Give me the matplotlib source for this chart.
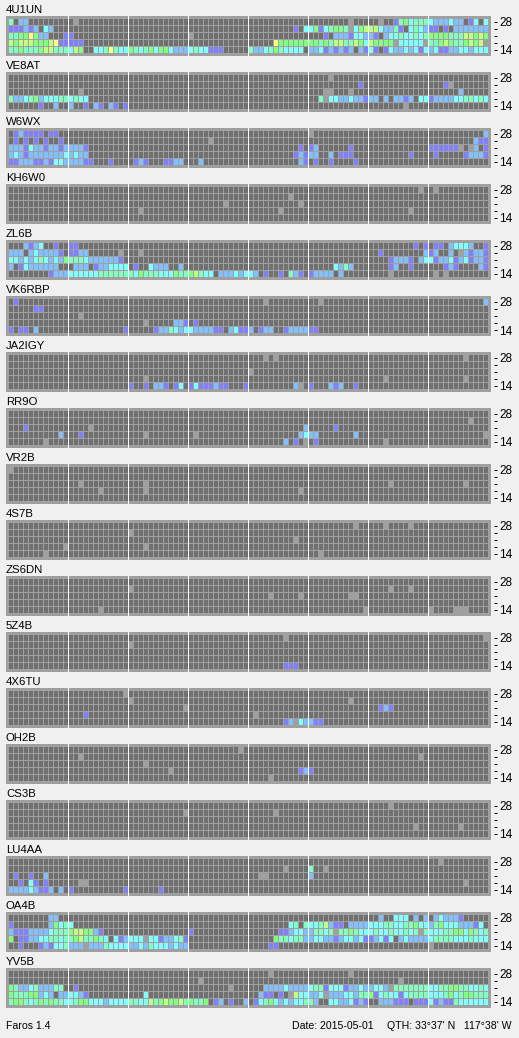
import numpy as np
import matplotlib
matplotlib.use("Agg")
import matplotlib.pyplot as plt
from matplotlib.colors import ListedColormap, BoundaryNorm
from matplotlib.collections import PolyCollection

# '.' = no signal, 0 = noise only, 1..7 = signal level; rows run from 28 MHz down to 14 MHz
D = "............"
BEACON_4U1UN = [
    "4.22........ .0.......... " + f"{D} {D} {D} ........0... ..0..1453444 3222322.13.3",
    "111212.32... " + f"{D} {D} {D} .........1.3 351345540356 6632241.3432 11.1.2222222",
    "44557522...1 1........... " + f"{D} 0........... {D} ...1.2221332 21.233433434 555544466565",
    "656665556711 111......... " + f"{D} {D} .....7555555 554546644653 655550333330 445654456560",
    "445444566444 365..3347433 543453553222 3433111..... 42234543333. 223121212.21 31.132232313 231122332333",
]
BEACON_VE8AT = [
    f"{D} {D} {D} {D} {D} ....0....... {D} {D}",
    f"{D} {D} {D} {D} {D} ..........1. {D} ...10.......",
    f"{D} ..0......... {D} {D} {D} ...00...0... {D} ......2.....",
    f"422345233344 3433........ {D} {D} {D} ..4033223221 22.2.2212.33 122223344343",
    f"......1..2.. 2..1.21.21.1 {D} {D} {D} {D} .......0.... {D}",
]
BEACON_W6WX = [
    f".121111.11.. {D} {D} {D} {D} 0........... {D} ...........2",
    f".1.1.1.1..1. {D} {D} ....0....... {D} {D} {D} .........211",
    f"222132212212 2221........ {D} {D} ..........1. 12......1... {D} 1111110.02.1",
    f"232122222223 2322........ {D} {D} .........121 22..2.111... ........1... .1.....12221",
    f"112221121332 22211...1... .121...1122. ..2......... ..........21 .1..1....1.. {D} {D}",
]
BEACON_ZL6B = [
    f"...2123..1.. 11.......... {D} {D} {D} {D} .........1.1 .11.23332..1",
    f"222.2322221. 1122......0. ..0......... {D} {D} {D} ..1........2 12..2.021221",
    f"332323432325 44432222221. {D} {D} {D} {D} ....12221.23 312231231221",
    f"2.13222222.. .222.1223333 .1..3222..2. {D} {D} .....3242... ....12..1... ...121....21",
    f"........1222 333333444444 435444333544 56433.222323 32.1..1.421. 12222.2..... ....0....... .0.0........",
]
BEACON_OA4B = [
    f"........22.. {D} {D} {D} {D} {D} ..2..333.2.2 .232221.....",
    f"1.......2534 3........... {D} {D} ........34.4 3346211.2222 333443344533 24533322213.",
    f"211122223444 5665521..... {D} 1........... ......112332 244340445433 343343343404 333445535434",
    f"5.1122334434 45644543.312 333033122341 {D} .....5443442 233221233231 12313.232222 344443334333",
    f"..1...121334 222022243333 223243332322 {D} ....11...... {D} {D} 0...........",
]
BEACON_YV5B = [
    f"{D} {D} {D} {D} ....0....... ........0... {D} {D}",
    f"{D} {D} {D} ..0......... {D} {D} ......0..... {D}",
    f"54223422244. .1.......... {D} ........0... ...222232222 344133312232 233204444444 334455443343",
    f"544455232.22 3321........ ...3........ {D} ..211.1.0633 223022233244 513433134444 333453455444",
    f"455434545443 345533323333 443364565564 5445.12.1..2 .13453232334 42..33223121 ..222111.111 312114333333",
]

# sparse panels: (row, column, level)
BEACON_KH6W0 = [(3,26,0),(2,43,0),(3,54,0),(1,56,0),(2,58,0),(3,80,0),(0,82,0),(0,85,0)]
BEACON_VK6RBP = [(0,1,1),(0,51,0),(0,62,0),(0,95,2),(1,5,1),(1,6,1),(2,14,0),(3,27,0),(3,33,2),(3,34,2),(3,35,1),(3,37,1),
    (4,0,1),(4,2,1),(4,3,1),(4,5,2),(4,23,1),(4,29,1),(4,30,2),(4,31,2),(4,32,4),(4,33,3),(4,34,2),(4,35,3),(4,36,3),
    (4,37,2),(4,38,2),(4,39,2),(4,40,2),(4,41,1),(4,42,1),(4,44,2),(4,45,3),(4,46,1),(4,47,1),(4,48,2),(4,50,1),(4,51,2),
    (4,52,2),(4,55,1),(4,56,2),(4,57,2),(4,58,2),(4,59,2),(4,60,1),(4,61,1)]
BEACON_JA2IGY = [(0,51,0),(0,53,0),(0,91,0),(2,48,0),(3,27,0),(3,75,0),(3,91,0),(4,24,1),(4,27,1),(4,29,2),(4,30,2),(4,31,1),
    (4,33,1),(4,34,3),(4,36,1),(4,37,3),(4,38,1),(4,39,1),(4,40,1),(4,41,2),(4,42,1),(4,43,1),(4,47,1),(4,57,2),(4,58,0),
    (4,60,1),(4,64,2),(4,65,1),(4,66,2),(4,69,1)]
BEACON_RR9O = [(1,92,0),(2,3,1),(2,16,0),(2,59,2),(2,65,1),(3,10,2),(3,14,1),(3,27,0),(3,37,0),(3,58,2),(3,59,3),(3,60,2),
    (3,61,2),(3,69,2),(3,95,0),(4,7,0),(4,55,2),(4,57,1),(4,59,0),(4,61,1),(4,75,0)]
BEACON_VR2B = [(0,0,0),(2,14,0),(2,27,0),(2,76,0),(2,91,0),(3,18,0),(3,27,0),(3,58,0)]
BEACON_4S7B = [(0,69,0),(0,75,0),(0,80,0),(1,24,0),(2,57,0),(3,11,0),(3,27,0),(4,7,0),(4,62,0)]
BEACON_ZS6DN = [(1,24,0),(1,76,0),(1,80,0),(2,52,0),(2,58,0),(2,68,0),(2,69,0),(4,18,0),(4,71,0),(4,84,0),(4,89,0),(4,90,0),(4,91,0)]
BEACON_5Z4B = [(0,55,0),(0,95,0),(1,24,0),(4,55,1),(4,56,1),(4,57,1)]
BEACON_4X6TU = [(0,23,0),(1,24,0),(1,68,0),(2,35,0),(2,74,1),(2,75,2),(2,76,1),(3,15,1),(3,49,0),(4,55,1),(4,56,2),(4,57,0),
    (4,58,3),(4,59,2),(4,60,2),(4,61,1),(4,62,1)]
BEACON_OH2B = [(0,46,0),(1,14,0),(1,82,0),(2,27,0),(3,32,0),(3,58,1),(3,59,2),(3,60,1),(4,52,0)]
BEACON_CS3B = [(0,76,0),(1,35,0),(1,53,0),(3,81,0),(3,90,0)]
BEACON_LU4AA = [(0,86,0),(1,55,0),(1,60,4),(1,63,0),(2,1,1),(2,4,1),(2,7,2),(2,50,0),(2,51,0),(2,60,2),(3,2,1),(3,4,3),(3,5,1),
    (3,7,1),(3,14,0),(3,15,0),(3,91,0),(4,0,2),(4,1,2),(4,2,2),(4,3,2),(4,4,3),(4,5,2),(4,6,1),(4,7,1),(4,8,2),(4,10,2),
    (4,12,1),(4,23,1),(4,30,1)]

CALLS = ["4U1UN","VE8AT","W6WX","KH6W0","ZL6B","VK6RBP","JA2IGY","RR9O","VR2B",
         "4S7B","ZS6DN","5Z4B","4X6TU","OH2B","CS3B","LU4AA","OA4B","YV5B"]
PANELS = [BEACON_4U1UN,BEACON_VE8AT,BEACON_W6WX,BEACON_KH6W0,BEACON_ZL6B,BEACON_VK6RBP,BEACON_JA2IGY,BEACON_RR9O,BEACON_VR2B,
          BEACON_4S7B,BEACON_ZS6DN,BEACON_5Z4B,BEACON_4X6TU,BEACON_OH2B,BEACON_CS3B,BEACON_LU4AA,BEACON_OA4B,BEACON_YV5B]
BAND_LABELS = ["28","","","","14"]
FOOT_LEFT = "Faros 1.4"
FOOT_DATE = "Date: 2015-05-01"
FOOT_QTH = "QTH: 33°37' N   117°38' W"

COLORS = ["#707070","#A0A0A0","#8080FF","#80C0FF","#80FFFF","#80FFC0","#80FF80","#C0FF80","#FFFF80"]
GRID = "#A0A0A0"
BG = "#F0F0F0"

def to_grid(panel):
    g = np.full((5,96), -1, dtype=int)
    if isinstance(panel[0], str):
        for r, s in enumerate(panel):
            s = s.replace(" ", "")
            assert len(s) == 96, (r, len(s), s)
            for c, ch in enumerate(s):
                if ch != ".":
                    g[r,c] = int(ch)
    else:
        for r, c, v in panel:
            g[r,c] = v
    return g

W, H = 519, 1038
plt.rcParams['font.family'] = ['Liberation Sans', 'DejaVu Sans']
fig = plt.figure(figsize=(W/100, H/100), dpi=100, facecolor=BG)
PX = 72/100
cmap = ListedColormap(COLORS)
norm = BoundaryNorm(np.arange(-1.5, 8.5), cmap.N)

XG = 0.1      # 1/2 px of a 5 px pitch
YG = 0.5/7    # 1/2 px of a 7 px pitch

for i, (call, panel) in enumerate(zip(CALLS, PANELS)):
    top = 16 + 56*i
    ax = fig.add_axes([6/W, 1-(top+40)/H, 485/W, 40/H], facecolor=GRID)
    g = to_grid(panel)
    rr, cc = np.indices(g.shape)
    verts = [[(c+XG, r+YG), (c+1-XG, r+YG), (c+1-XG, r+1-YG), (c+XG, r+1-YG)]
             for r, c in zip(rr.ravel(), cc.ravel())]
    coll = PolyCollection(verts, array=g.ravel(), cmap=cmap, norm=norm,
                          edgecolors="none", linewidths=0, antialiased=True)
    coll.set_snap(False)
    ax.add_collection(coll)
    ax.set_xlim((6-8.5)/5, (491-8.5)/5)
    ax.set_ylim((56-18.5)/7, (16-18.5)/7)
    for k in range(1, 8):
        ax.axvspan(12*k-XG, 12*k+XG, color="white", lw=0, antialiased=False, zorder=5)
    for s in ("top","bottom","left","right"):
        ax.spines[s].set_visible(False)
    ax.spines["right"].set_position(("outward", 3*PX))
    ax.set_xticks([])
    ax.yaxis.tick_right()
    ax.set_yticks(np.arange(5)+0.5, BAND_LABELS)
    ax.tick_params(axis="y", length=3*PX, width=PX, color="black", pad=2.5*PX,
                   labelsize=8.5, labelcolor="black")
    fig.text(6/W, 1-(top-3)/H, call, fontsize=8.2, color="black", va="baseline", ha="left")

fig.text(6/W, 1-1029/H, FOOT_LEFT, fontsize=7.6, va="baseline", ha="left")
fig.text(292/W, 1-1029/H, FOOT_DATE, fontsize=7.6, va="baseline", ha="left")
fig.text(387/W, 1-1029/H, FOOT_QTH, fontsize=7.6, va="baseline", ha="left")

fig.savefig("out.png", dpi=100, facecolor=BG)
